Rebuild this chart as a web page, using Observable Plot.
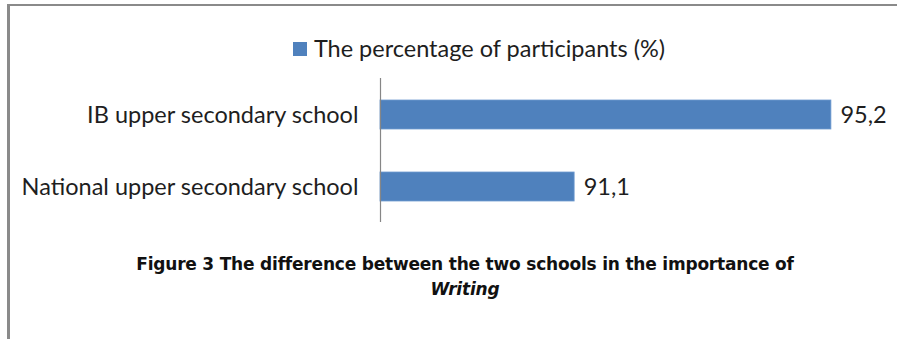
<!DOCTYPE html>
<html>
<head>
<meta charset="utf-8">
<script src="https://cdn.jsdelivr.net/npm/d3@7"></script>
<script src="https://cdn.jsdelivr.net/npm/@observablehq/plot@0.6"></script>
<style>
  html, body { margin: 0; padding: 0; background: #fff; }
  body { width: 897px; height: 339px; position: relative; overflow: hidden; font-family: Lato, "Open Sans", sans-serif; color: #1e1e1e; }
  #frame { position: absolute; left: 7px; top: 4px; width: 900px; height: 340px; border-left: 3px solid #8a8a8a; border-top: 2px solid #8a8a8a; }
  #legend { position: absolute; top: 36px; left: 0; width: 958px; text-align: center; font-size: 23.5px; line-height: 24px; white-space: nowrap; }
  #legend .sw { display: inline-block; width: 14px; height: 14px; background: #4f81bd; margin-right: 7px; vertical-align: 1px; }
  #chart { position: absolute; left: 0; top: 0; }
  #caption { position: absolute; top: 252px; left: 0; width: 930px; text-align: center; font-family: "DejaVu Sans", sans-serif; font-weight: bold; font-size: 17px; line-height: 25px; letter-spacing: -0.2px; white-space: nowrap; color: #111; }
</style>
</head>
<body>
<div id="frame"></div>
<div id="chart"></div>
<div id="legend"><span class="sw"></span><span id="legendText"></span></div>
<div id="caption"></div>
<script>
const categories = ["IB upper secondary school", "National upper secondary school"];
const values = [95.2, 91.1];
const valueLabels = ["95,2", "91,1"];
const seriesName = "The percentage of participants (%)";
const captionLine1 = "Figure 3 The difference between the two schools in the importance of";
const captionLine2 = "Writing";
const xDomain = [88, 96];

const data = categories.map((c, i) => ({category: c, value: values[i], label: valueLabels[i]}));

document.getElementById("legendText").textContent = seriesName;
const cap = document.getElementById("caption");
cap.appendChild(document.createTextNode(captionLine1));
cap.appendChild(document.createElement("br"));
const it = document.createElement("i");
it.textContent = captionLine2;
cap.appendChild(it);

const chart = Plot.plot({
  width: 897,
  height: 240,
  marginLeft: 380,
  marginRight: 16,
  marginTop: 78,
  marginBottom: 18,
  style: {fontFamily: "Lato, 'Open Sans', sans-serif", background: "transparent", color: "#1e1e1e"},
  x: {domain: xDomain, axis: null},
  y: {domain: categories, paddingInner: 0.6, paddingOuter: 0.3, label: null},
  marks: [
    Plot.barX(data, {x1: xDomain[0], x2: "value", y: "category", fill: "#4f81bd", stroke: "#6f9bd0", strokeWidth: 0.8}),
    Plot.ruleX([xDomain[0]], {stroke: "#868686", strokeWidth: 1.2}),
    Plot.text(data, {x: "value", y: "category", text: "label", textAnchor: "start", dx: 9, fontSize: 23.5, fill: "#1e1e1e"}),
    Plot.axisY({tickSize: 0, tickPadding: 22, fontSize: 23.5, fill: "#1e1e1e", label: null})
  ]
});
document.getElementById("chart").appendChild(chart);
</script>
</body>
</html>
